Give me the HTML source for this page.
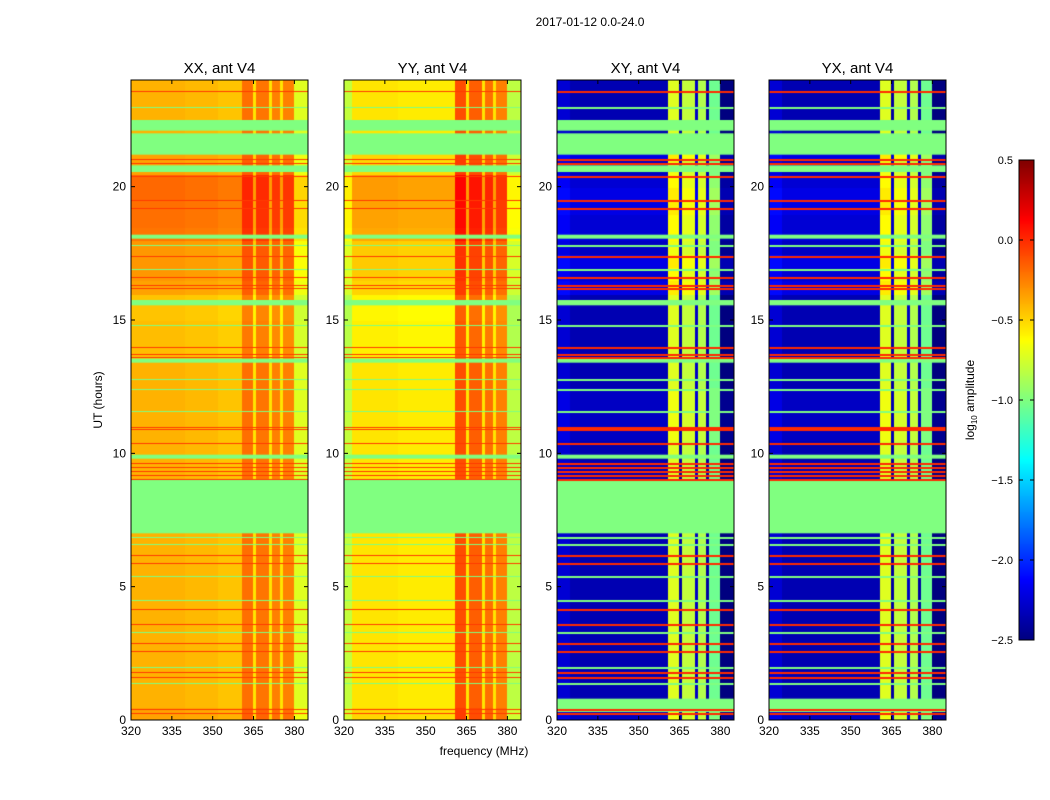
<!DOCTYPE html>
<html><head><meta charset="utf-8"><style>
body{margin:0;background:#fff;width:1050px;height:800px;overflow:hidden;font-family:"Liberation Sans",sans-serif}
#wrap{position:relative;width:1050px;height:800px}
canvas{position:absolute}
svg{position:absolute;left:0;top:0}
</style></head><body>
<div id="wrap">
<canvas id="c0"></canvas>
<canvas id="c1"></canvas>
<canvas id="c2"></canvas>
<canvas id="c3"></canvas>
<canvas id="cb"></canvas>
<svg id="ov" width="1050" height="800"></svg>
</div>
<script>
// frequency bins 1 MHz, 320..384
const freqStart=320, freqBins=65;
// column profiles (log10 amplitude), piecewise [fromMHz, toMHz, value]
const colXX=[[320,340,-0.4],[340,352,-0.42],[352,361,-0.45],[361,365,-0.2],[365,366,-0.55],[366,371,-0.22],[371,372,-0.55],[372,375,-0.25],[375,376,-0.55],[376,380,-0.25],[380,385,-0.72]];
const colYY=[[320,323,-0.8],[323,340,-0.55],[340,361,-0.57],[361,365,-0.1],[365,366,-0.55],[366,371,-0.15],[371,372,-0.55],[372,375,-0.2],[375,376,-0.55],[376,380,-0.25],[380,385,-0.82]];
const colXY=[[320,325,-2.25],[325,361,-2.35],[361,365,-0.72],[365,366,-2.4],[366,371,-0.8],[371,372,-2.3],[372,375,-0.85],[375,376,-2.4],[376,380,-1.05],[380,385,-2.5]];
const colYX=[[320,325,-2.25],[325,361,-2.35],[361,365,-0.72],[365,366,-2.4],[366,371,-0.8],[371,372,-2.3],[372,375,-0.85],[375,376,-2.4],[376,380,-1.05],[380,385,-2.5]];
// time offsets per 0.5 h block (48 blocks, 0..24 h)
const offPar=[0.05,0,0,0,0,0,0,0,0,0,0,0,0,0,0,0,0,0,0,0,0,0,0,0,0,0,0,-0.03,-0.03,-0.03,-0.05,-0.05,0.05,0.08,0.08,0.08,0.18,0.2,0.2,0.22,0.22,0.05,0.05,0,0,0,0,0];
const offCross=[0.05,0,0,0,0,0,0,0,0,0,0,0,0,0,0,0,0,0,0,0,0,0.05,0.05,0.05,0.05,0,0,0,0,0,0,0,0.15,0.1,0.15,0.05,0.1,0.1,0.15,0.15,0.1,0.05,0.15,0,0,0,0,0];
// flagged intervals (hours) -> value -1.0
const flags=[[7.0,9.0],[9.8,9.95],[13.4,13.55],[15.55,15.75],[18.05,18.2],[20.55,20.8],[21.2,22.0],[22.1,22.5]];
const crossFlags=[[0.3,0.8]];
const redLines=[0.25,0.4,1.6,1.8,2.6,2.9,3.6,4.15,5.9,6.2,9.05,9.2,9.35,9.5,9.62,10.4,10.9,11.0,13.6,13.72,14.0,16.2,16.3,16.6,17.4,19.2,19.5,20.4,20.9,21.05,23.6];
const greenLines=[1.4,2.0,3.3,4.5,5.4,6.6,6.85,11.6,12.4,12.8,14.8,16.9,17.8,23.0];
const xTicks=[320,335,350,365,380];
const yTicks=[0,5,10,15,20];
const cbTicks=[0.5,0.0,-0.5,-1.0,-1.5,-2.0,-2.5];
const titles=["XX, ant V4","YY, ant V4","XY, ant V4","YX, ant V4"];
const panelLeft=[131,344,557,769];
const PW=177, PT=80, PB=720, vmin=-2.5, vmax=0.5;
function jet(v){let t=(v-vmin)/(vmax-vmin);t=Math.max(0,Math.min(1,t));
 const c=x=>Math.round(255*Math.max(0,Math.min(1,1.5-Math.abs(4*t-x))));
 return `rgb(${c(3)},${c(2)},${c(1)})`;}
const xs=f=>(f-320)*PW/65;           // MHz -> px within panel
const ys=h=>(PB-PT)-(h*(PB-PT)/24);  // hour -> px within panel
function prof(p,f){for(const s of p) if(f>=s[0]&&f<s[1]) return s[2];return p[p.length-1][2];}
const profs=[colXX,colYY,colXY,colYX];
for(let k=0;k<4;k++){
 const cv=document.getElementById('c'+k);cv.width=PW;cv.height=PB-PT;
 cv.style.left=panelLeft[k]+'px';cv.style.top=PT+'px';
 const g=cv.getContext('2d');const off=k<2?offPar:offCross;
 for(let b=0;b<48;b++)for(let i=0;i<freqBins;i++){
  const f=freqStart+i;g.fillStyle=jet(prof(profs[k],f)+off[b]);
  const x0=xs(f),x1=xs(f+1),y0=ys((b+1)/2),y1=ys(b/2);
  g.fillRect(Math.floor(x0),Math.floor(y0),Math.ceil(x1-x0)+1,Math.ceil(y1-y0)+1);}
 const fl=k<2?flags:flags.concat(crossFlags);
 g.fillStyle=jet(-1.0);
 for(const r of fl){g.fillRect(0,ys(r[1]),PW,ys(r[0])-ys(r[1]));}
 g.fillStyle=jet(k<2?-0.05:0.0);
 for(const h of redLines){g.fillRect(0,Math.round(ys(h)),PW,k<2?1:2);}
 g.fillStyle=jet(-1.0);
 for(const h of greenLines){g.fillRect(0,Math.round(ys(h)),PW,k<2?1:2);}
}
// colorbar
const cb=document.getElementById('cb');cb.width=15;cb.height=480;cb.style.left='1019px';cb.style.top='160px';
const cg=cb.getContext('2d');for(let y=0;y<480;y++){cg.fillStyle=jet(vmax-(y+0.5)/480*(vmax-vmin));cg.fillRect(0,y,15,1);}
// overlay
const ov=document.getElementById('ov');const NS='http://www.w3.org/2000/svg';
function mk(tag,at,txt){const e=document.createElementNS(NS,tag);for(const a in at)e.setAttribute(a,at[a]);if(txt!==undefined)e.textContent=txt;ov.appendChild(e);return e;}
let t=mk('text',{x:590,y:26,'font-size':12,'text-anchor':'middle'},'2017-01-12 0.0-24.0');


for(let k=0;k<4;k++){
 const L=panelLeft[k];
 let r=mk('rect',{x:L,y:PT,width:PW,height:PB-PT,fill:'none',stroke:'#000','stroke-width':1});
 
 
 let tt=mk('text',{x:L+PW/2,y:73,'font-size':15,'text-anchor':'middle'},titles[k]);
 
 
 for(const f of xTicks){const x=L+xs(f);
  mk('line',{x1:x,y1:PB,x2:x,y2:PB-4,stroke:'#000'});mk('line',{x1:x,y1:PT,x2:x,y2:PT+4,stroke:'#000'});
  let l=mk('text',{x:x,y:PB+15,'font-size':12,'text-anchor':'middle'},String(f));
  
  }
 for(const h of yTicks){const y=PT+ys(h);
  mk('line',{x1:L,y1:y,x2:L+4,y2:y,stroke:'#000'});mk('line',{x1:L+PW,y1:y,x2:L+PW-4,y2:y,stroke:'#000'});
  let l=mk('text',{x:L-5,y:y+4,'font-size':12,'text-anchor':'end'},String(h));
  
  }
}
let yl=mk('text',{x:102,y:400,'font-size':12,'text-anchor':'middle',transform:'rotate(-90 102 400)'},'UT (hours)');


let xl=mk('text',{x:484,y:755,'font-size':12,'text-anchor':'middle'},'frequency (MHz)');


let cbf=mk('rect',{x:1019,y:160,width:15,height:480,fill:'none',stroke:'#000'});


for(const v of cbTicks){const y=160+(vmax-v)/(vmax-vmin)*480;
 mk('line',{x1:1019,y1:y,x2:1023,y2:y,stroke:'#000'});mk('line',{x1:1034,y1:y,x2:1030,y2:y,stroke:'#000'});
 let l=mk('text',{x:1013,y:y+4,'font-size':11,'text-anchor':'end'},(v.toFixed(1)).replace('-','\u2212'));
 
 }
let cl=mk('text',{x:974,y:400,'font-size':12,'text-anchor':'middle',transform:'rotate(-90 974 400)'});
cl.innerHTML='log<tspan font-size="8" dy="3">10</tspan><tspan dy="-3"> amplitude</tspan>';


</script>
</body></html>
